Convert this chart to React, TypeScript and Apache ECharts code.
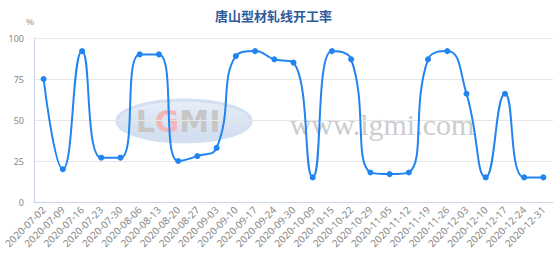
import React, { useEffect, useRef } from "react";
import * as echarts from "echarts";

const categories = [
  "2020-07-02", "2020-07-09", "2020-07-16", "2020-07-23", "2020-07-30",
  "2020-08-06", "2020-08-13", "2020-08-20", "2020-08-27", "2020-09-03",
  "2020-09-10", "2020-09-17", "2020-09-24", "2020-09-30", "2020-10-09",
  "2020-10-15", "2020-10-22", "2020-10-29", "2020-11-05", "2020-11-12",
  "2020-11-19", "2020-11-26", "2020-12-03", "2020-12-10", "2020-12-17",
  "2020-12-24", "2020-12-31",
];
const values = [
  75, 20, 92, 27, 27, 90, 90, 25, 28, 33, 89, 92, 87, 85, 15, 92, 87, 18, 17, 18,
  87, 92, 66, 15, 66, 15, 15,
];
const yTicks = [0, 25, 50, 75, 100];

export default function App() {
  const ref = useRef<HTMLDivElement>(null);
  useEffect(() => {
    if (!ref.current) return;
    const chart = echarts.init(ref.current, undefined, { renderer: "svg" });
    chart.setOption({
      animation: false,
      title: {
        text: "唐山型材轧线开工率",
        left: 210,
        top: 4,
        textStyle: {
          color: "#2e5b9c",
          fontSize: 13,
          fontWeight: "bold",
          fontFamily: "Noto Sans CJK SC",
        },
      },
      graphic: [
        {
          type: "ellipse",
          z: -10,
          shape: { cx: 184, cy: 121, rx: 67, ry: 21 },
          style: {
            fill: new echarts.graphic.LinearGradient(0, 0, 0, 1, [
              { offset: 0, color: "#e6eef8" },
              { offset: 1, color: "#cfddef" },
            ]),
            stroke: "#d3e0f0",
            lineWidth: 3,
          },
        },
        {
          type: "text",
          z: -9,
          x: 178,
          y: 121,
          style: {
            text: "{a|L}{b|G}{a|MI}",
            align: "center",
            verticalAlign: "middle",
            rich: {
              a: { fontSize: 30, fontFamily: "DejaVu Sans", fill: "#c6c6c6", fontWeight: "bold" },
              b: { fontSize: 30, fontFamily: "DejaVu Sans", fill: "#f2b8b8", fontWeight: "bold" },
            },
          },
        },
        {
          type: "text",
          z: -9,
          x: 382,
          y: 124,
          style: {
            text: "www.lgmi.com",
            align: "center",
            verticalAlign: "middle",
            fontSize: 30,
            fontFamily: "Liberation Serif",
            fill: "#cdcdcd",
          },
        },
      ],
      grid: { left: 34, right: 1, top: 38, bottom: 61, containLabel: false },
      xAxis: {
        type: "category",
        data: categories,
        boundaryGap: true,
        axisLine: { lineStyle: { color: "#ccd6eb" } },
        axisTick: { lineStyle: { color: "#ccd6eb" }, length: 5 },
        axisLabel: {
          rotate: 45,
          interval: 0,
          color: "#888",
          fontSize: 10,
          margin: 6,
          fontFamily: "Noto Sans",
        },
      },
      yAxis: {
        type: "value",
        min: yTicks[0],
        max: yTicks[yTicks.length - 1],
        interval: 25,
        name: "%",
        nameGap: 12,
        nameTextStyle: { color: "#888", fontSize: 9, padding: [0, 8, 0, 0] },
        axisLine: { show: true, lineStyle: { color: "#ccd6eb" } },
        axisTick: { show: false },
        axisLabel: { color: "#888", fontSize: 9, margin: 10, fontFamily: "Noto Sans" },
        splitLine: { lineStyle: { color: "#e6e6e6" } },
      },
      series: [
        {
          type: "line",
          data: values,
          smooth: true,
          symbol: "circle",
          symbolSize: 6,
          lineStyle: { color: "#2184f0", width: 2 },
          itemStyle: { color: "#2184f0" },
        },
      ],
    });
    return () => chart.dispose();
  }, []);
  return <div ref={ref} style={{ width: 554, height: 263, position: "absolute", left: 0, top: 0 }} />;
}
